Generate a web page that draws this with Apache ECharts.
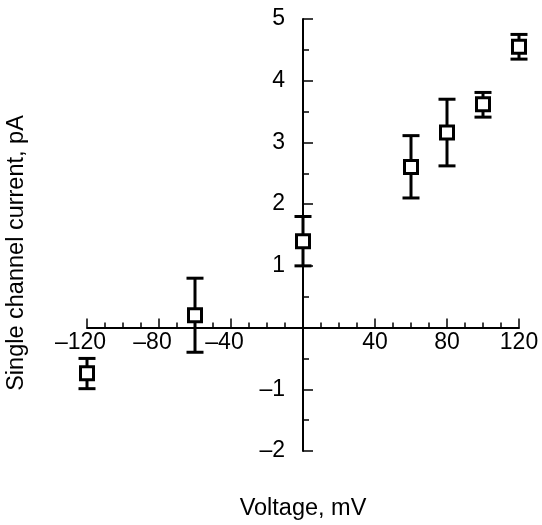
<!DOCTYPE html>
<html>
<head>
<meta charset="utf-8">
<script src="https://cdn.jsdelivr.net/npm/echarts@6/dist/echarts.min.js"></script>
<style>
html,body{margin:0;padding:0;background:#fff;}
#chart{width:542px;height:525px;}
</style>
</head>
<body>
<div id="chart"></div>
<script>
// Data
var voltage = [-120, -60, 0, 60, 80, 100, 120];
var current = [-0.74, 0.20, 1.40, 2.60, 3.16, 3.62, 4.55];
var errUpper = [-0.50, 0.80, 1.80, 3.11, 3.70, 3.81, 4.75];
var errLower = [-0.99, -0.40, 1.00, 2.10, 2.62, 3.41, 4.35];
var xTickLabels = ['–120', '–80', '–40', '40', '80', '120'];
var yTickLabels = ['–2', '–1', '1', '2', '3', '4', '5'];
var xTitle = 'Voltage, mV';
var yTitle = 'Single channel current, pA';

var FONT = '"Liberation Sans", Arial, sans-serif';
var X_MIN = -120, X_MAX = 120, Y_MIN = -2, Y_MAX = 5;
var GRID = { left: 87, right: 23, top: 19, bottom: 74 };
var W = 542, H = 525;
var gridW = W - GRID.left - GRID.right;
var gridH = H - GRID.top - GRID.bottom;
// shift axes so they cross at zero
var yAxisOffset = -gridW * (0 - X_MIN) / (X_MAX - X_MIN);
var xAxisOffset = -gridH * (0 - Y_MIN) / (Y_MAX - Y_MIN);

function fmtLabel(v, list) {
  if (v === 0) return '';
  var s = (v < 0 ? '–' : '') + Math.abs(v);
  return list.indexOf(s) >= 0 ? s : '';
}

var points = voltage.map(function (v, i) { return [v, current[i]]; });
var errData = voltage.map(function (v, i) { return [v, errLower[i], errUpper[i]]; });

var chart = echarts.init(document.getElementById('chart'), null, { renderer: 'canvas' });
chart.setOption({
  animation: false,
  backgroundColor: '#fff',
  grid: { left: GRID.left, right: GRID.right, top: GRID.top, bottom: GRID.bottom, containLabel: false },
  xAxis: {
    type: 'value', min: X_MIN, max: X_MAX, interval: 40,
    position: 'bottom', offset: xAxisOffset,
    axisLine: { onZero: false, lineStyle: { color: '#000', width: 2 } },
    axisTick: { show: true, inside: true, length: 9, lineStyle: { color: '#000', width: 1.5 } },
    minorTick: { show: true, splitNumber: 4, length: 5, lineStyle: { color: '#000', width: 1.5 } },
    splitLine: { show: false },
    axisLabel: {
      margin: 4,
      fontFamily: FONT, fontSize: 23, color: '#000',
      formatter: function (v) {
        var s = fmtLabel(v, xTickLabels);
        if (v < 0 && s) return '{n|' + s + '}';
        return s;
      },
      rich: { n: { fontFamily: FONT, fontSize: 23, color: '#000', padding: [0, 13, 0, 0] } }
    }
  },
  yAxis: {
    type: 'value', min: Y_MIN, max: Y_MAX, interval: 1,
    position: 'left', offset: yAxisOffset,
    axisLine: { onZero: false, lineStyle: { color: '#000', width: 2 } },
    axisTick: { show: true, inside: true, length: 10, lineStyle: { color: '#000', width: 1.5 } },
    minorTick: { show: true, splitNumber: 2, length: 6, lineStyle: { color: '#000', width: 1.5 } },
    splitLine: { show: false },
    axisLabel: {
      margin: 18,
      fontFamily: FONT, fontSize: 23, color: '#000',
      formatter: function (v) { return fmtLabel(v, yTickLabels); }
    }
  },
  graphic: [
    {
      type: 'text', x: 303, y: 509,
      style: { text: xTitle, font: '23.5px ' + FONT, fill: '#000', textAlign: 'center', textVerticalAlign: 'middle' }
    },
    {
      type: 'text', x: 17, y: 253, rotation: Math.PI / 2,
      style: { text: yTitle, font: '23.5px ' + FONT, fill: '#000', textAlign: 'center', textVerticalAlign: 'middle' }
    }
  ],
  series: [
    {
      type: 'custom',
      clip: false,
      z: 3,
      data: errData,
      renderItem: function (params, api) {
        var x = api.value(0);
        var pLo = api.coord([x, api.value(1)]);
        var pHi = api.coord([x, api.value(2)]);
        var hw = 8.5;
        var st = { stroke: '#000', lineWidth: 3 };
        return {
          type: 'group',
          children: [
            { type: 'line', shape: { x1: pLo[0], y1: pLo[1], x2: pHi[0], y2: pHi[1] }, style: st },
            { type: 'line', shape: { x1: pLo[0] - hw, y1: pLo[1], x2: pLo[0] + hw, y2: pLo[1] }, style: st },
            { type: 'line', shape: { x1: pHi[0] - hw, y1: pHi[1], x2: pHi[0] + hw, y2: pHi[1] }, style: st }
          ]
        };
      }
    },
    {
      type: 'scatter',
      z: 4,
      data: points,
      symbol: 'rect',
      symbolSize: 13,
      itemStyle: { color: '#fff', borderColor: '#000', borderWidth: 3, opacity: 1 }
    }
  ]
});
</script>
</body>
</html>
